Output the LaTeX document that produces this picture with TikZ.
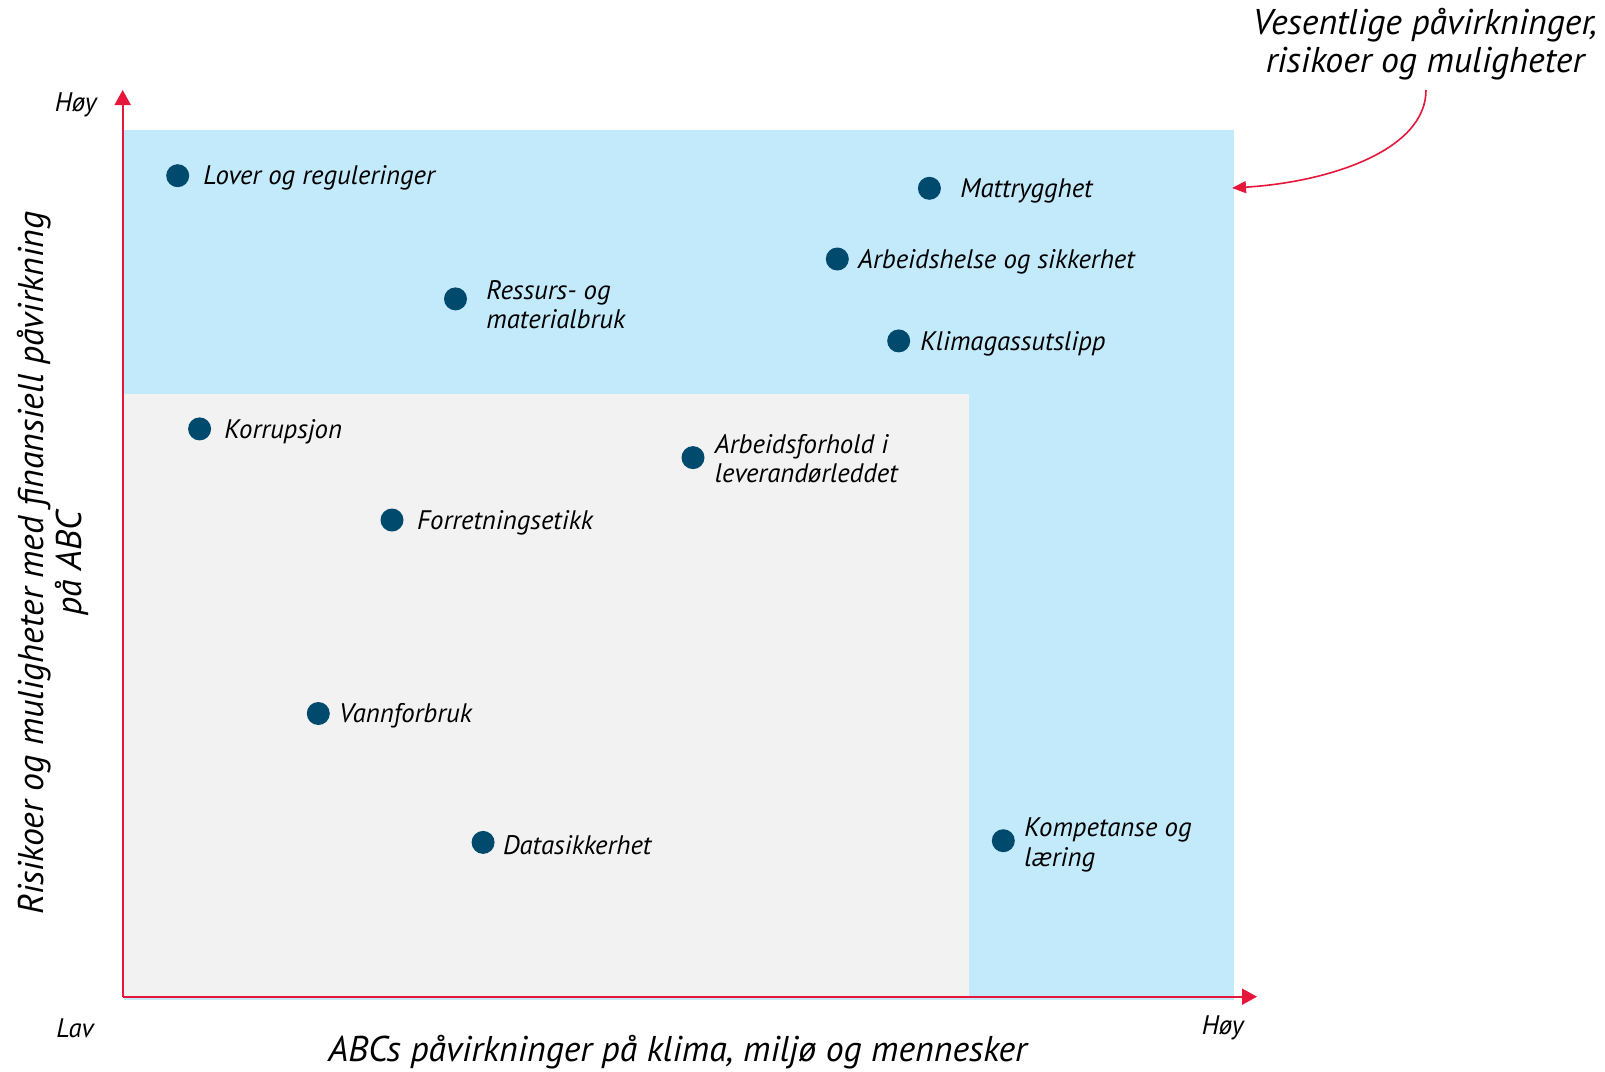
\documentclass[tikz,border=0pt]{standalone}
\usepackage{fontspec}
\setmainfont{PT Sans}
\usetikzlibrary{arrows.meta}
\definecolor{zoneblue}{HTML}{C3EAFB}
\definecolor{zonegrey}{HTML}{F2F2F2}
\definecolor{axisred}{HTML}{E5173A}
\definecolor{dotblue}{HTML}{004A6E}
\tikzset{
  dotmark/.style={circle,fill=dotblue,minimum size=11.5pt,inner sep=0pt},
  itemlabel/.style={anchor=west,inner sep=0pt,align=left,font=\itshape\fontsize{13.4}{14.6}\selectfont},
  axislabel/.style={inner sep=0pt,font=\itshape\fontsize{13.4}{15}\selectfont},
  axistitle/.style={inner sep=0pt,align=center,font=\itshape\fontsize{17.9}{19}\selectfont},
  axisline/.style={draw=axisred,line width=1pt,-{Triangle[length=7.5pt,width=8pt]}},
}
\begin{document}
\begin{tikzpicture}[x=0.5pt,y=-0.5pt]
\useasboundingbox (0,0) rectangle (1605,1071);
% zones
\fill[zoneblue] (124,130) rectangle (1234,1000);
\fill[zonegrey] (124,394) rectangle (969,997);
% axes
\coordinate (O) at (122.7,996.7);
\coordinate (ytip) at (122.7,90);
\coordinate (xtip) at (1257,996.7);
\draw[axisline] (O) -- (ytip);
\draw[axisline] (O) -- (xtip);
\node[axislabel,anchor=east] (yhigh) at (97,105) {Høy};
\node[axislabel,anchor=east] (xlow) at (94,1028) {Lav};
\node[axislabel,anchor=east] (xhigh) at (1244,1028) {Høy};
\node[axistitle] (xtitle) at (677.6,1052) {ABCs påvirkninger på klima, miljø og mennesker};
\node[axistitle,rotate=90] (ytitle) at (53,563) {Risikoer og muligheter med finansiell påvirkning\\på ABC};
% annotation
\node[axistitle] (note) at (1425,44) {Vesentlige påvirkninger,\\risikoer og muligheter};
\coordinate (notetip) at (1232,188);
\draw[draw=axisred,line width=0.8pt,-{Triangle[length=7pt,width=6pt]}] (1426,90) .. controls (1426,150) and (1330,182) .. (notetip);
% items
\node[dotmark] (d1) at (177.7,175.7) {};
\node[itemlabel] (l1) at (203,178) {Lover og reguleringer};
\node[dotmark] (d2) at (929.4,188.3) {};
\node[itemlabel] (l2) at (960,191) {Mattrygghet};
\node[dotmark] (d3) at (837.3,259) {};
\node[itemlabel] (l3) at (857.8,261.5) {Arbeidshelse og sikkerhet};
\node[dotmark] (d4) at (455.5,298.9) {};
\node[itemlabel] (l4) at (486,304.5) {Ressurs- og\\materialbruk};
\node[dotmark] (d5) at (898.7,340.9) {};
\node[itemlabel] (l5) at (920,343.5) {Klimagassutslipp};
\node[dotmark] (d6) at (199.6,428.9) {};
\node[itemlabel] (l6) at (224,431.5) {Korrupsjon};
\node[dotmark] (d7) at (693,457.6) {};
\node[itemlabel] (l7) at (714.5,458.5) {Arbeidsforhold i\\leverandørleddet};
\node[dotmark] (d8) at (392,520) {};
\node[itemlabel] (l8) at (416.6,522.5) {Forretningsetikk};
\node[dotmark] (d9) at (318.3,713.5) {};
\node[itemlabel] (l9) at (338.8,716) {Vannforbruk};
\node[dotmark] (d10) at (483.1,842.4) {};
\node[itemlabel] (l10) at (502.6,845) {Datasikkerhet};
\node[dotmark] (d11) at (1003.3,840.7) {};
\node[itemlabel] (l11) at (1024,845) {Kompetanse og\\læring};
\end{tikzpicture}
\end{document}
